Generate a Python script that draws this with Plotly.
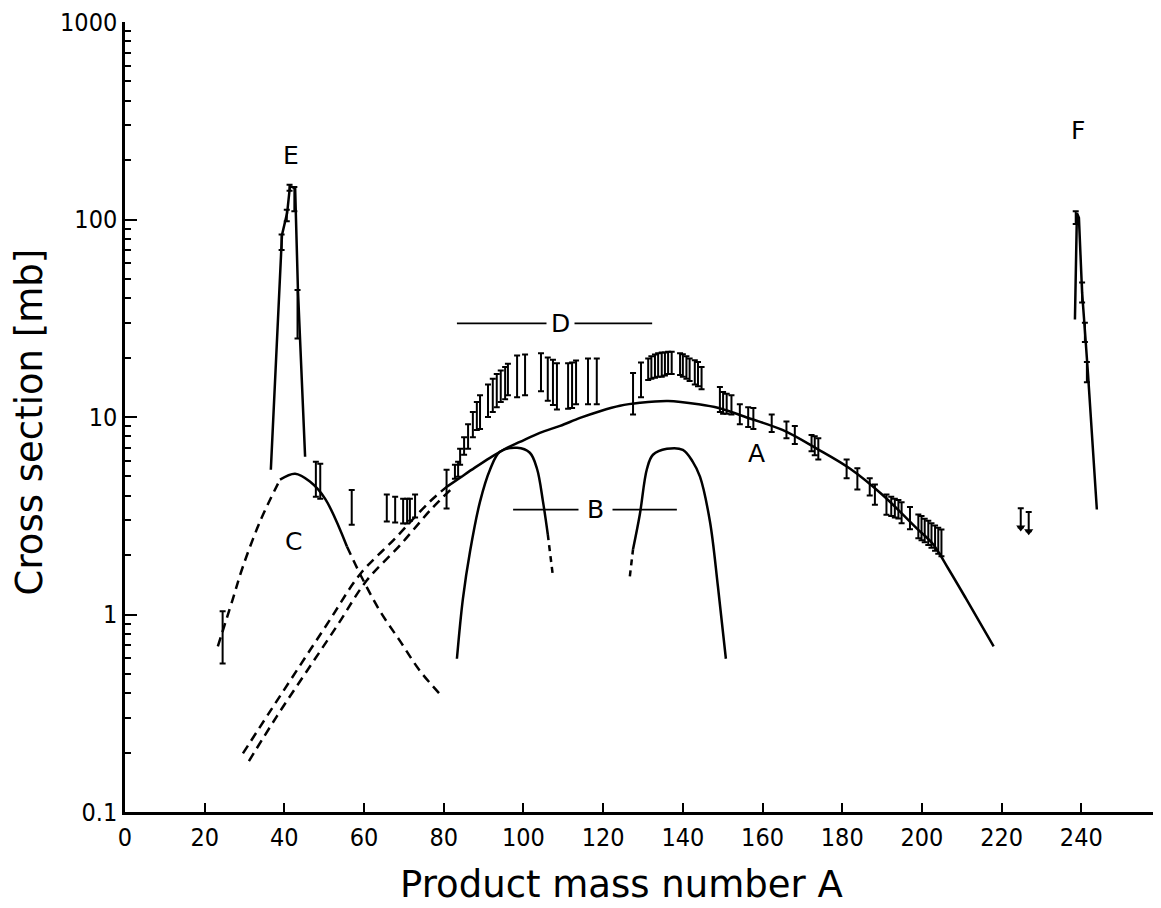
import math
import plotly.graph_objects as go

# ---------------- data ----------------
# curve A (solid, fitted fission distribution)
curveA_A = [80.8, 84.1, 87.8, 91.6, 95.4, 99.1, 104.1, 109.2, 114.2, 119.2, 124.2, 129.2, 136.3,
            144, 149, 157, 165, 173.7, 182, 190, 198.7, 202.8, 206.6, 211, 218]
curveA_s = [4.44, 4.93, 5.54, 6.21, 6.90, 7.48, 8.31, 9.02, 9.89, 10.7, 11.4, 11.8, 12.05,
            11.6, 11.1, 9.8, 8.6, 6.9, 5.47, 4.05, 2.73, 2.27, 1.71, 1.21, 0.69]

# dashed double extension of curve A to low masses
ext1_A = [29.6, 36.4, 43.9, 51.4, 59.0, 67.8, 76.5, 80.8]
ext1_s = [0.198, 0.323, 0.551, 0.938, 1.60, 2.43, 3.73, 4.44]
ext2_A = [31.1, 38.1, 45.7, 53.2, 60.7, 69.0, 77.0, 82.0]
ext2_s = [0.181, 0.305, 0.519, 0.875, 1.49, 2.24, 3.44, 4.34]

# curve C (dashed left, solid middle, dashed right)
C_left_A = [23.3, 26.9, 29.6, 33.9, 38.9]
C_left_s = [0.69, 1.17, 1.75, 2.96, 4.82]
C_mid_A = [38.9, 42.7, 46.4, 50.2, 55.7]
C_mid_s = [4.82, 5.16, 4.71, 3.86, 2.21]
C_right_A = [55.7, 59.5, 64.0, 69.0, 74.0, 79.8]
C_right_s = [2.21, 1.53, 1.04, 0.735, 0.519, 0.38]

# curves B (two humps, dashed ends)
B1_A = [83.3, 84.8, 86.6, 89.1, 91.6, 94.1, 98.4, 101.6, 103.4, 104.9, 106.1]
B1_s = [0.597, 1.20, 2.09, 3.73, 5.41, 6.66, 6.98, 6.59, 5.47, 3.73, 2.55]
B1_tail_A = [106.1, 107.4]
B1_tail_s = [2.55, 1.56]
B2_head_A = [126.7, 127.5]
B2_head_s = [1.56, 2.14]
B2_A = [127.5, 129.2, 131.0, 132.5, 136.0, 140.0, 142.5, 144.3, 146.8, 148.8, 150.8]
B2_s = [2.14, 3.21, 5.47, 6.44, 6.9, 6.82, 5.93, 4.99, 2.96, 1.39, 0.597]

# peak E (light fragments) and peak F (near target)
E_A = [36.6, 39.4, 40.7, 41.4, 42.7, 43.4, 45.2]
E_s = [5.41, 83.6, 108, 147.5, 144, 44.2, 6.29]
E_bar_A = [39.3, 40.6, 41.3, 42.5, 43.3]
E_bar_lo = [70, 98, 140, 110, 25]
E_bar_hi = [84, 112, 150, 146, 44]

F_A = [238.4, 238.9, 239.4, 240.2, 240.9, 241.7, 243.9]
F_s = [31.2, 108, 102, 42.6, 27.5, 16.3, 3.40]
F_bar_A = [238.6, 240.2, 240.9, 241.4]
F_bar_lo = [95, 38, 24, 15]
F_bar_hi = [110, 48, 30, 19]

# upper limits (arrows)
UL_A = [224.8, 226.8]
UL_s = [3.45, 3.30]

# measured cross sections (error bar ends)
mass_A = [24.5, 47.9, 49.0, 56.9, 65.7, 67.8, 69.8, 70.8, 71.5, 72.8,
          80.7, 82.8, 83.6, 84.1, 85.1, 86.1, 87.3, 88.3, 89.1, 91.1,
          92.3, 93.3, 94.3, 95.4, 96.1, 98.4, 100.4, 104.4, 106.1, 107.4,
          108.4, 111.2, 112.2, 113.2, 116.2, 118.4, 127.5, 129.5, 131.3, 132.1,
          133.0, 133.8, 134.7, 135.5, 136.3, 137.2, 139.3, 140.0, 140.9, 141.7,
          143.0, 143.8, 144.7, 149.3, 150.1, 151.0, 152.2, 154.3, 156.4, 157.7,
          162.3, 166.0, 168.1, 172.3, 173.1, 174.0, 181.1, 183.8, 186.9, 188.2,
          191.1, 192.3, 193.2, 194.1, 194.9, 197.0, 199.1, 199.9, 200.7, 201.6,
          202.4, 203.3, 204.1, 204.9]
sigma_lo = [0.565, 3.95, 3.86, 2.85, 2.96, 2.92, 2.89, 2.89, 2.98, 3.10,
            3.44, 4.87, 4.98, 5.73, 6.44, 6.9, 7.9, 8.6, 8.7, 10.0,
            10.6, 11.2, 11.9, 12.3, 12.9, 12.6, 12.9, 13.5, 12.1, 11.5,
            10.9, 11.0, 11.1, 11.6, 11.6, 11.6, 10.3, 12.6, 15.4, 15.6,
            15.8, 16.0, 16.0, 16.2, 16.5, 16.5, 16.3, 16.0, 15.6, 15.2,
            14.6, 14.3, 13.8, 10.6, 10.4, 10.4, 10.3, 9.2, 8.9, 8.7,
            8.4, 7.8, 7.3, 6.7, 6.4, 6.1, 4.9, 4.3, 4.0, 3.6,
            3.2, 3.15, 3.1, 3.06, 2.9, 2.7, 2.43, 2.38, 2.32, 2.25,
            2.18, 2.10, 2.03, 1.97]
sigma_hi = [1.04, 5.93, 5.8, 4.27, 4.05, 3.95, 3.86, 3.86, 3.86, 4.05,
            5.41, 5.73, 5.93, 6.9, 7.9, 9.2, 10.6, 11.9, 12.9, 14.6,
            15.6, 16.5, 17.2, 17.9, 18.6, 20.5, 20.7, 21.0, 20.0, 19.5,
            18.7, 18.7, 18.9, 19.3, 19.8, 19.8, 16.7, 18.9, 19.8, 20.3,
            20.7, 21.0, 21.2, 21.2, 21.4, 21.4, 21.0, 20.8, 20.3, 19.8,
            19.4, 19.0, 17.9, 14.2, 13.4, 13.1, 12.9, 11.6, 11.2, 11.1,
            10.3, 9.5, 9.0, 8.1, 8.0, 7.8, 6.1, 5.5, 4.9, 4.55,
            4.05, 3.95, 3.85, 3.8, 3.7, 3.5, 3.21, 3.15, 3.05, 2.98,
            2.9, 2.82, 2.75, 2.69]

# marker lines for regions D and B
D_line_A = [83.3, 132.3]
D_level = 29.8
D_label_A = 109.2
B_line_A = [97.4, 138.5]
B_level = 3.4
B_label_A = 118.0

labels = ["A", "C", "E", "F"]
label_A = [158.6, 42.2, 41.7, 239.2]
label_s = [6.5, 2.35, 211, 282]

x_ticks = list(range(0, 241, 20))
y_ticks = [0.1, 1, 10, 100, 1000]
y_ticktext = ["0.1", "1", "10", "100", "1000"]

# ---------------- figure ----------------
fig = go.Figure()
LW = 2.5
DASH = "9px,6px"


def add_line(xs, ys, dash="solid", shape="spline", width=LW):
    fig.add_trace(go.Scatter(x=xs, y=ys, mode="lines",
                             line=dict(color="black", width=width, dash=dash, shape=shape),
                             hoverinfo="skip", showlegend=False))


def add_bars(xs, lo, hi):
    ctr = [(a * b) ** 0.5 for a, b in zip(lo, hi)]
    fig.add_trace(go.Scatter(
        x=xs, y=ctr, mode="markers", marker=dict(size=0.1, color="black"),
        error_y=dict(type="data", symmetric=False,
                     array=[h - c for h, c in zip(hi, ctr)],
                     arrayminus=[c - l for c, l in zip(ctr, lo)],
                     color="black", thickness=2, width=3),
        hoverinfo="skip", showlegend=False))


add_line(curveA_A, curveA_s)
add_line(ext1_A, ext1_s, dash=DASH)
add_line(ext2_A, ext2_s, dash=DASH)
add_line(C_left_A, C_left_s, dash=DASH)
add_line(C_mid_A, C_mid_s)
add_line(C_right_A, C_right_s, dash=DASH)
add_line(B1_A, B1_s)
add_line(B1_tail_A, B1_tail_s, dash="6px,5px")
add_line(B2_head_A, B2_head_s, dash="6px,5px")
add_line(B2_A, B2_s)
add_line(E_A, E_s, shape="linear")
add_line(F_A, F_s, shape="linear")
add_line(D_line_A, [D_level, D_level], shape="linear", width=1.8)
add_line(B_line_A, [B_level, B_level], shape="linear", width=1.8)

add_bars(mass_A, sigma_lo, sigma_hi)
add_bars(E_bar_A, E_bar_lo, E_bar_hi)
add_bars(F_bar_A, F_bar_lo, F_bar_hi)

# upper limits: cap at the limit, line down to an arrow head
ul_tip = [s * 0.8 for s in UL_s]
fig.add_trace(go.Scatter(
    x=UL_A, y=ul_tip, mode="markers",
    marker=dict(symbol="triangle-down", size=8, color="black"),
    error_y=dict(type="data", symmetric=False,
                 array=[s - t for s, t in zip(UL_s, ul_tip)],
                 arrayminus=[0, 0], color="black", thickness=2, width=3),
    hoverinfo="skip", showlegend=False))

LABEL_FONT = dict(family="DejaVu Sans, sans-serif", size=25, color="black")
annotations = []
for t, a, s in zip(labels, label_A, label_s):
    annotations.append(dict(x=a, y=math.log10(s), xref="x", yref="y",
                            text=t, showarrow=False, font=LABEL_FONT))
annotations.append(dict(x=D_label_A, y=math.log10(D_level), xref="x", yref="y",
                        text="D", showarrow=False, font=LABEL_FONT,
                        bgcolor="white", borderpad=4))
annotations.append(dict(x=B_label_A, y=math.log10(B_level), xref="x", yref="y",
                        text="B", showarrow=False, font=LABEL_FONT,
                        bgcolor="white", borderpad=8))
TITLE_FONT = dict(family="DejaVu Sans, sans-serif", size=37, color="black")
annotations.append(dict(x=0.479, y=-0.092, xref="paper", yref="paper",
                        text="Product mass number A", showarrow=False,
                        font=TITLE_FONT, xanchor="center", yanchor="middle"))
annotations.append(dict(x=-0.092, y=0.494, xref="paper", yref="paper",
                        text="Cross section [mb]", showarrow=False, textangle=-90,
                        font=TITLE_FONT, xanchor="center", yanchor="middle"))

TICK_FONT = dict(family="DejaVu Sans Condensed, Liberation Sans Narrow, DejaVu Sans, sans-serif",
                 size=25, color="black")

# the page body has an 8px margin, so the figure is 8px smaller and margins shifted
fig.update_layout(
    width=1153, height=900,
    margin=dict(l=117, r=0, t=10, b=96),
    paper_bgcolor="white", plot_bgcolor="white",
    showlegend=False,
    annotations=annotations,
    xaxis=dict(range=[0, 260], tickmode="array", tickvals=x_ticks,
               ticks="inside", ticklen=9, tickwidth=2, tickcolor="black",
               showline=True, linecolor="black", linewidth=2.5,
               showgrid=False, zeroline=False, tickfont=TICK_FONT,
               ticklabelstandoff=1, ticklabeloverflow="allow"),
    yaxis=dict(type="log", range=[-1, 3], tickmode="array", tickvals=y_ticks,
               ticktext=y_ticktext,
               ticks="inside", ticklen=12, tickwidth=2, tickcolor="black",
               minor=dict(ticks="inside", ticklen=6, tickwidth=1.5, tickcolor="black",
                          dtick="D1", showgrid=False),
               showline=True, linecolor="black", linewidth=2.5,
               showgrid=False, zeroline=False, tickfont=TICK_FONT,
               ticklabelstandoff=0, ticklabeloverflow="allow"),
)

fig.write_html("out.html")
